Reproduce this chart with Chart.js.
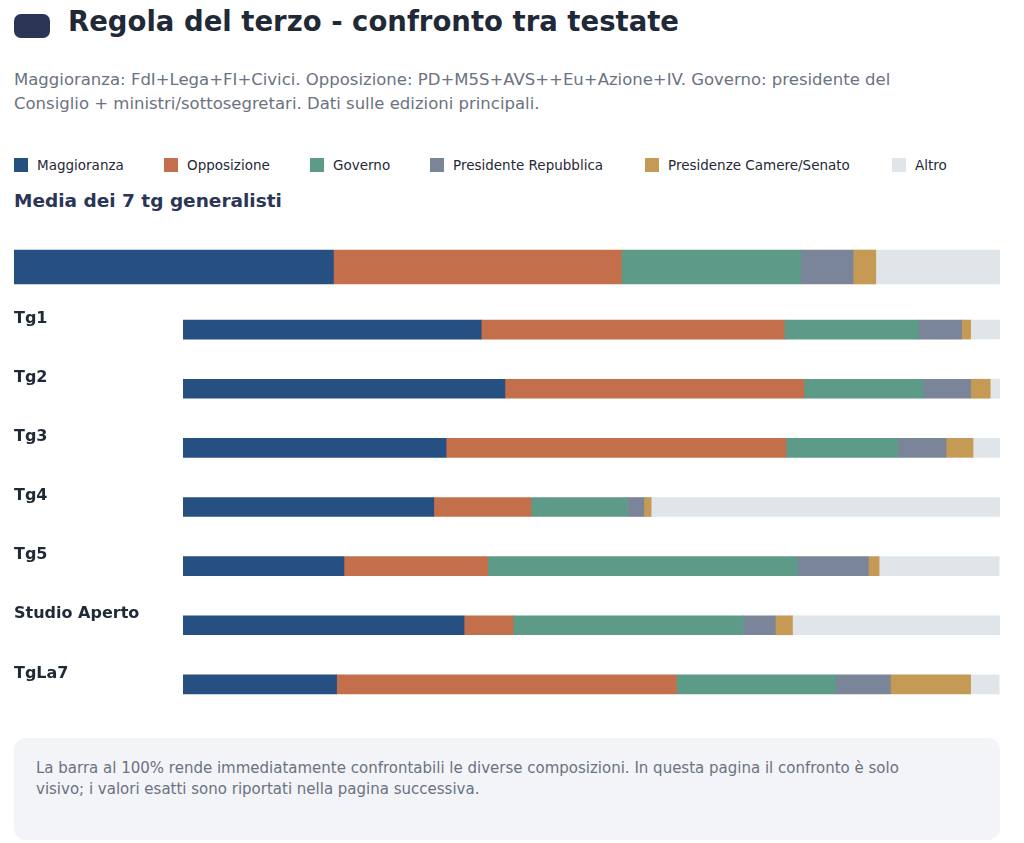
<!DOCTYPE html>
<html>
<head>
<meta charset="utf-8">
<script src="https://cdn.jsdelivr.net/npm/chart.js@4"></script>
<style>
  body { margin: 0; width: 1024px; height: 843px; position: relative; font-family: "DejaVu Sans", sans-serif; background: #fff; overflow: hidden; }
  .abs { position: absolute; }
  #icon { left: 14px; top: 14px; width: 36px; height: 24px; background: #2b3556; border-radius: 7px; }
  #title { left: 68px; top: 5px; font-size: 27.5px; font-weight: bold; color: #1f2937; }
  #sub { left: 14px; top: 68px; width: 935px; font-size: 16.5px; line-height: 24px; color: #6b7280; }
  .leg { top: 157px; font-size: 13.5px; color: #1f2937; display: flex; align-items: center; }
  .leg span { display: inline-block; width: 14px; height: 14px; margin-right: 9px; }
  #heading { left: 14px; top: 190px; font-size: 18.5px; font-weight: bold; color: #2b3556; }
  #note { left: 14px; top: 738px; width: 900px; height: 58px; padding: 20px 64px 24px 22px; background: #f2f4f8; border-radius: 12px; font-size: 15px; line-height: 21px; color: #6b7280; }
</style>
</head>
<body>
<div id="icon" class="abs"></div>
<div id="title" class="abs">Regola del terzo - confronto tra testate</div>
<div id="sub" class="abs">Maggioranza: FdI+Lega+FI+Civici. Opposizione: PD+M5S+AVS++Eu+Azione+IV. Governo: presidente del Consiglio + ministri/sottosegretari. Dati sulle edizioni principali.</div>
<div id="legend"></div>
<div id="heading" class="abs">Media dei 7 tg generalisti</div>
<div class="abs" style="left:14px;top:240px;width:986px;height:54px"><canvas id="avg"></canvas></div>
<div class="abs" style="left:14px;top:300px;width:986px;height:414px"><canvas id="rows"></canvas></div>
<div id="note" class="abs">La barra al 100% rende immediatamente confrontabili le diverse composizioni. In questa pagina il confronto è solo visivo; i valori esatti sono riportati nella pagina successiva.</div>
<script>
const series = ["Maggioranza", "Opposizione", "Governo", "Presidente Repubblica", "Presidenze Camere/Senato", "Altro"];
const colors = ["#264f82", "#c46f4b", "#5e9a88", "#7a8599", "#c49a55", "#dfe5e8"];
const legendX = [14, 164, 310, 430, 645, 892];

const testate = ["Tg1", "Tg2", "Tg3", "Tg4", "Tg5", "Studio Aperto", "TgLa7"];
const media = [32.4, 29.2, 18.2, 5.3, 2.3, 12.7];
const maggioranza = [36.5, 39.4, 32.2, 30.7, 19.7, 34.4, 18.8];
const opposizione = [37.1, 36.6, 41.6, 11.9, 17.6, 6.0, 41.6];
const governo = [16.4, 14.6, 13.7, 11.8, 37.9, 28.2, 19.5];
const presRepubblica = [5.3, 5.8, 5.9, 2.0, 8.7, 3.9, 6.7];
const presCamere = [1.1, 2.4, 3.3, 0.9, 1.3, 2.1, 9.8];
const altro = [3.7, 1.2, 3.3, 42.8, 14.7, 25.5, 3.5];

const legend = document.getElementById("legend");
series.forEach((s, i) => {
  const d = document.createElement("div");
  d.className = "abs leg";
  d.style.left = legendX[i] + "px";
  d.innerHTML = `<span style="background:${colors[i]}"></span>${s}`;
  legend.appendChild(d);
});

const baseOptions = (leftPad) => ({
  indexAxis: "y",
  responsive: true,
  maintainAspectRatio: false,
  animation: false,
  layout: { padding: { left: leftPad } },
  plugins: { legend: { display: false }, tooltip: { enabled: false } },
  scales: {
    x: { stacked: true, min: 0, max: 100, display: false },
    y: { stacked: true, display: false }
  }
});

new Chart(document.getElementById("avg"), {
  type: "bar",
  data: {
    labels: ["Media"],
    datasets: series.map((s, i) => ({ label: s, data: [media[i]], backgroundColor: colors[i], barThickness: 34, borderWidth: 0 }))
  },
  options: baseOptions(0)
});

const rowData = [maggioranza, opposizione, governo, presRepubblica, presCamere, altro];

// draws the row labels at the left, a bit above each bar
const rowLabels = {
  id: "rowLabels",
  afterDraw(chart) {
    const ctx = chart.ctx;
    const y = chart.scales.y;
    ctx.save();
    ctx.font = "bold 16px 'DejaVu Sans', sans-serif";
    ctx.fillStyle = "#1f2937";
    ctx.textBaseline = "middle";
    testate.forEach((t, i) => ctx.fillText(t, 0, y.getPixelForValue(i) - 11));
    ctx.restore();
  }
};

new Chart(document.getElementById("rows"), {
  type: "bar",
  data: {
    labels: testate,
    datasets: series.map((s, i) => ({ label: s, data: rowData[i], backgroundColor: colors[i], barThickness: 19, borderWidth: 0 }))
  },
  options: baseOptions(169),
  plugins: [rowLabels]
});
</script>
</body>
</html>
